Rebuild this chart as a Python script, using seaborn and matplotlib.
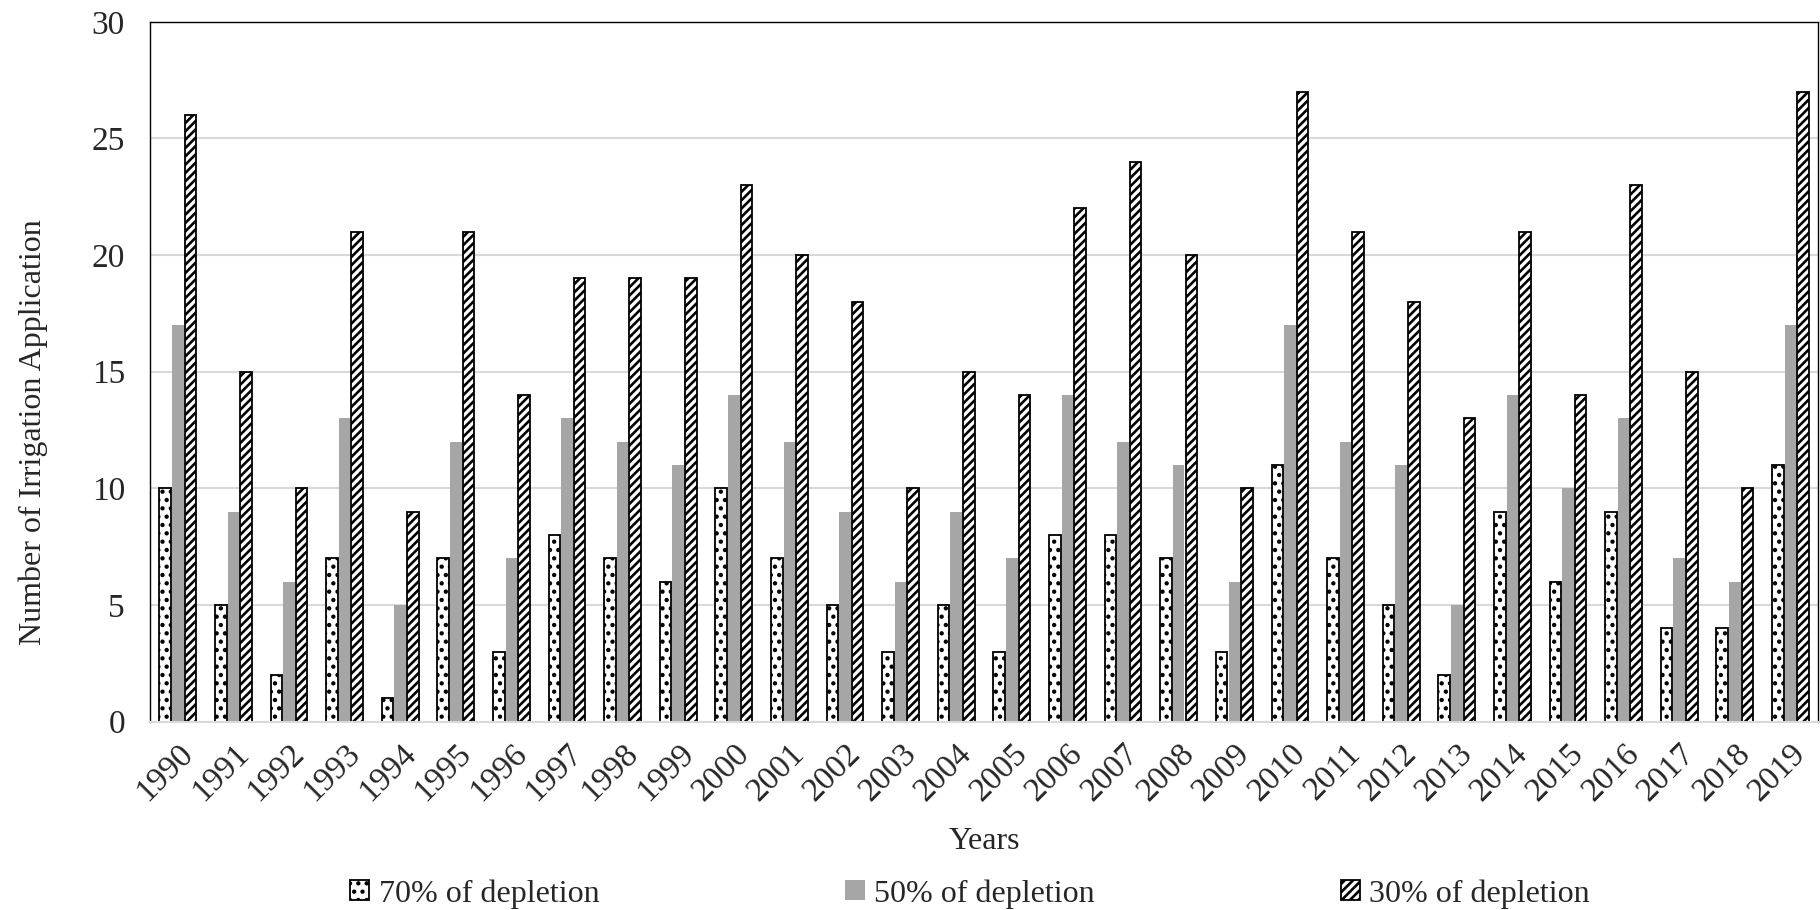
import numpy as np
import pandas as pd
import matplotlib
matplotlib.use("Agg")
import matplotlib.pyplot as plt
import seaborn as sns
from matplotlib.patches import Patch

years = [str(y) for y in range(1990, 2020)]
dep70 = [10, 5, 2, 7, 1, 7, 3, 8, 7, 6, 10, 7, 5, 3, 5, 3, 8, 8, 7, 3, 11, 7, 5, 2, 9, 6, 9, 4, 4, 11]
dep50 = [17, 9, 6, 13, 5, 12, 7, 13, 12, 11, 14, 12, 9, 6, 9, 7, 14, 12, 11, 6, 17, 12, 11, 5, 14, 10, 13, 7, 6, 17]
dep30 = [26, 15, 10, 21, 9, 21, 14, 19, 19, 19, 23, 20, 18, 10, 15, 14, 22, 24, 20, 10, 27, 21, 18, 13, 21, 14, 23, 15, 10, 27]
series = ["70% of depletion", "50% of depletion", "30% of depletion"]

df = pd.DataFrame({
    "Year": years * 3,
    "Value": dep70 + dep50 + dep30,
    "Series": [series[0]] * 30 + [series[1]] * 30 + [series[2]] * 30,
})

sns.set_theme(style="white")
plt.rcParams['font.family'] = ['Liberation Serif', 'DejaVu Serif']
plt.rcParams['hatch.linewidth'] = 1.9

fig = plt.figure(figsize=(18.2, 9.1), dpi=100)
ax = fig.add_axes([0.0824, 0.207, 0.9166, 0.769])

palette = {series[0]: "white", series[1]: "#a6a6a6", series[2]: "white"}
sns.barplot(data=df, x="Year", y="Value", hue="Series", hue_order=series,
            palette=palette, ax=ax, width=0.68, gap=0.08, legend=False,
            saturation=1)

for i, cont in enumerate(ax.containers):
    for p in cont:
        if i == 0:
            p.set_hatch('..')
            p.set_edgecolor('black')
            p.set_linewidth(1.3)
        elif i == 1:
            p.set_edgecolor('none')
            p.set_linewidth(0)
        else:
            p.set_hatch('////')
            p.set_edgecolor('black')
            p.set_linewidth(1.3)

ax.set_ylim(0, 30)
ax.set_xlim(-0.5, 29.5)
ax.set_yticks(range(0, 31, 5))
ax.yaxis.grid(True, color="#d9d9d9", linewidth=1.5)
ax.set_axisbelow(True)
for s in ax.spines.values():
    s.set_visible(True)
    s.set_color("black")
    s.set_linewidth(1.0)
ax.spines['bottom'].set_color("#d9d9d9")
ax.spines['bottom'].set_linewidth(1.5)
ax.tick_params(axis='both', length=0, labelsize=24)
ax.tick_params(axis='y', pad=18)
ax.tick_params(axis='x', pad=12)
plt.setp(ax.get_xticklabels(), rotation=45, ha='right', rotation_mode='anchor')
ax.set_xlabel("Years", fontsize=23, labelpad=14)
ax.set_ylabel("Number of Irrigation Application", fontsize=23)
ax.yaxis.set_label_coords(-0.061, 0.413)

handles = [
    Patch(facecolor="white", edgecolor="black", hatch="..", linewidth=1.3),
    Patch(facecolor="#a6a6a6", edgecolor="none"),
    Patch(facecolor="white", edgecolor="black", hatch="////", linewidth=1.3),
]
fig.legend(handles, series, loc="lower center", bbox_to_anchor=(0.533, -0.03), ncol=3,
           frameon=False, fontsize=23, handlelength=0.6, handleheight=0.6,
           handletextpad=0.3, columnspacing=7.7)

fig.savefig("out.png", dpi=100)
